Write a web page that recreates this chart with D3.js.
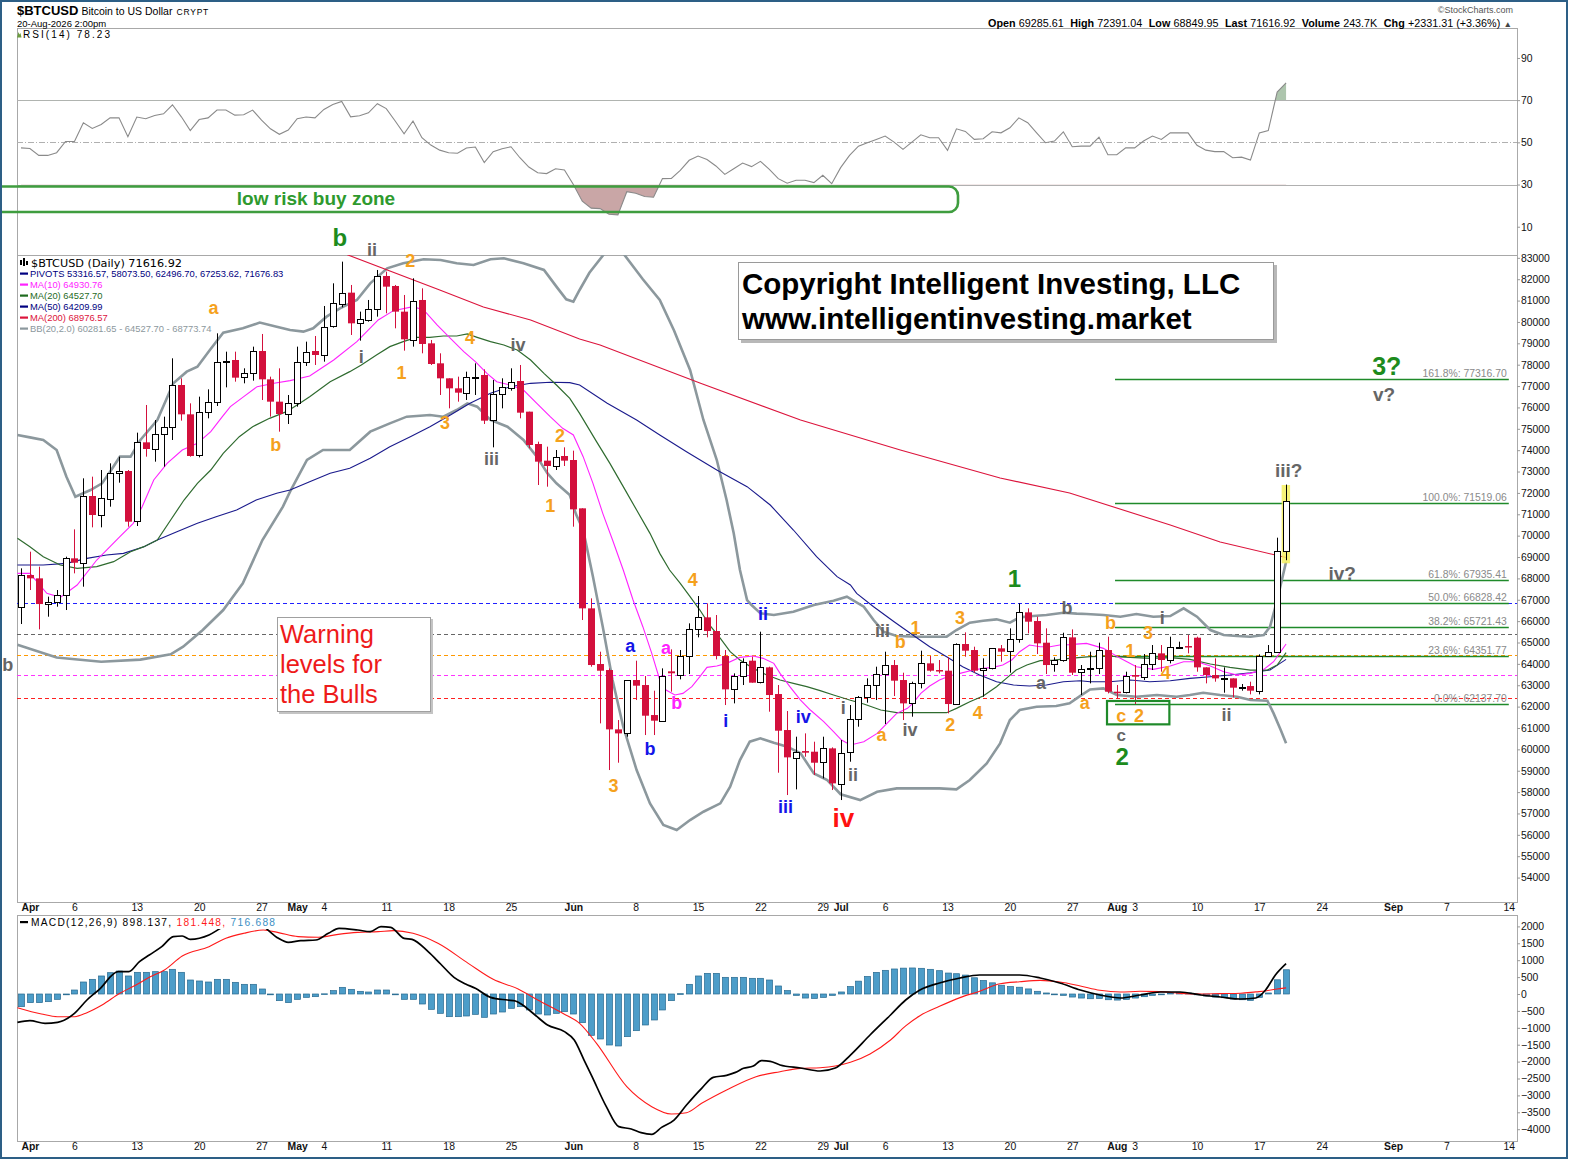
<!DOCTYPE html>
<html>
<head>
<meta charset="utf-8">
<style>
  body { margin: 0; background: #fff; }
  svg { display: block; font-family: "Liberation Sans", Arial, sans-serif; }
  .axis text { font-size: 10.4px; fill: #111; }
  .axis line { stroke: #999; }
  .axis .domain { stroke: #aaa; }
  .dotted .domain { stroke-dasharray: 1,2; }
  .wave { font-weight: bold; text-anchor: middle; dominant-baseline: central; }
  .legend { font-size: 9.4px; }
  .fib-label { font-size: 10.4px; fill: #8a8a8a; text-anchor: end; }
</style>
</head>
<body>
<svg width="1569" height="1162"></svg>
<script src="https://d3js.org/d3.v7.min.js"></script>
<script>
// ---------- values ----------
const startDate = "2026-03-31"

const opens = [66645,68158,68002,66800,66880,67222,68938,68735,71855,70966,
  71746,72947,73025,70654,74367,74055,74757,75100,77050,75677,
  73774,75802,76270,78142,78220,77409,77596,78641,77315,76270,
  75693,76239,78142,78641,78485,79780,80872,81371,79936,80092,
  80591,82151,81683,80482,79187,81028,78999,78064,77362,76894,
  76691,77409,77518,75381,76613,76940,77237,75802,74289,73509,
  73259,73727,73540,71278,66598,63993,63712,60935,60748,63244,
  63010,61606,61341,63650,63478,64367,65615,66177,65537,64367,
  62807,63431,64149,63120,63837,62589,60904,59625,59921,59890,
  59375,60046,58408,59843,61403,62433,62994,63509,63946,63244,
  62152,63088,64024,63712,63681,62121,64929,64648,63681,63790,
  64726,64601,65147,66411,66005,64991,63993,64180,65241,63588,
  63743,63790,64648,62698,62667,63478,63369,63993,64492,64180,
  64790,64835,65225,63837,63478,63322,63322,62885,62963,62745,
  64367,64570,69285.61]

const highs = [68470,69250,68548,67146,67456,69016,70295,72682,72760,73072,
  73384,73696,73072,74819,76114,75412,75568,78298,77362,76192,
  76504,76847,79468,78610,78610,77830,78844,79437,77440,77830,
  76582,78844,79078,79343,80747,81808,82822,81730,80482,81028,
  82432,82354,81730,81262,82042,81574,79156,78532,77362,77440,
  77674,78064,77783,77283,77362,77830,77986,75802,74398,74164,
  74008,74133,73977,71278,67066,64570,63790,61372,63244,64149,
  63431,62745,63790,64680,64648,65896,67175,66832,66286,64648,
  63556,64258,64336,65506,63868,63010,61793,60592,60748,60358,
  60592,60093,60436,62074,62495,63322,63868,64570,64180,63587,
  63166,64617,64367,64180,64305,64960,65475,64804,64258,64726,
  64882,65662,66832,66598,66208,65662,64305,65459,65615,63946,
  64570,64991,65272,63010,63634,63946,64461,64882,64882,65272,
  65038,65350,65272,63837,64258,63837,63322,63057,63166,64445,
  64882,69905,72391.04]

const lows = [65865,67456,65615,66208,66676,66520,68236,67612,70389,70389,
  71356,72479,70420,70451,73696,73462,73228,74476,75381,73696,
  73665,75490,76067,76940,77206,77128,77253,76348,75568,74866,
  75225,76036,77939,77986,78142,79733,80685,79390,79125,80014,
  80248,80404,79702,78657,78844,78532,77986,76582,75958,76270,
  76348,76582,75225,74133,75958,76785,75490,74086,72370,72292,
  73072,73259,70420,66052,63868,61216,59032,59375,60592,62308,
  60670,60670,61341,62700,63275,63525,65241,65241,64211,62074,
  62152,63010,63120,63088,61762,58907,57862,58127,59656,58798,
  58642,58096,57628,59422,61060,62183,62308,61185,62495,61372,
  61528,62854,63634,63556,61684,62121,64336,63587,62464,63743,
  64102,63587,64991,65428,64461,63525,63634,64102,63478,62542,
  63088,63525,62620,62386,62620,62121,63244,63712,63634,64024,
  64726,64492,63634,63088,63166,62651,62433,62745,62573,62573,
  64336,64570,68849.95]

const closes = [68158,68002,66800,66880,67222,68938,68735,71855,70966,71746,
  72947,73025,70654,74367,74055,74757,75100,77050,75677,73727,
  75802,76270,78142,78190,77393,77596,78641,77315,76270,75693,
  76223,78142,78610,78454,79780,80872,81371,79936,80124,80591,
  82151,81652,80482,79187,80997,78969,78033,77362,76894,76691,
  77440,77440,75381,76613,76940,77206,75755,74242,73462,73259,
  73696,73509,71231,66598,63946,63680,60935,60748,63244,62979,
  61575,61341,63447,63560,64367,65615,66177,65537,64367,62807,
  63431,64102,63120,63837,62542,60873,59625,59890,59843,59375,
  60046,58408,59843,61403,62433,62994,63509,63946,63213,62152,
  63088,64024,63681,63665,62121,64929,64617,63681,63790,64726,
  64570,65147,66411,65974,64960,63946,64180,65241,63587,63743,
  63790,64648,62698,62667,63431,63400,63993,64492,64180,64773,
  64804,64773,63837,63478,63322,63330,62885,62900,62745,64367,
  64570,69285.61,71616.92]

const rsi = [47.4,47.1,43.8,43.8,45.1,50.4,50.4,59.3,56.6,58.5,
  61.6,61.6,52.7,62.0,61.2,62.7,63.5,67.8,62.1,55.6,
  60.8,61.6,65.3,65.3,62.9,63.1,65.3,60.5,56.4,53.8,
  55.8,61.2,62.0,61.6,65.6,67.9,69.4,62.1,62.6,64.0,
  68.3,66.0,60.1,54.1,60.1,52.2,48.7,46.3,45.1,44.8,
  47.3,47.8,40.4,45.6,47.0,47.9,42.7,38.3,35.6,35.2,
  37.5,36.9,30.0,22.1,18.8,18.6,15.9,15.6,26.6,25.9,
  24.3,24.0,32.8,32.9,36.7,41.5,43.5,41.9,38.8,34.8,
  37.5,40.2,38.5,41.0,37.2,32.8,30.6,32.0,32.0,30.9,
  34.4,30.4,38.0,43.8,48.2,49.8,51.4,53.0,50.1,46.7,
  50.1,53.6,52.2,52.2,46.2,56.4,55.2,51.4,51.7,55.0,
  54.5,56.9,61.6,59.3,54.5,49.8,50.6,55.0,47.9,48.2,
  48.2,52.5,44.1,44.1,47.4,47.4,50.6,53.0,51.4,54.5,
  54.5,54.5,48.6,46.3,45.6,45.6,42.7,43.0,41.6,54.5,
  55.6,73.8,78.2]

const macdHist = [-375,-256,-256,-227,-158,-20,118,355,434,533,
  631,680,533,641,641,661,661,730,641,414,
  385,355,434,434,345,286,286,148,-20,-197,
  -256,-158,-99,-79,5,99,197,138,79,59,
  118,118,-20,-158,-158,-296,-454,-572,-671,-671,
  -651,-602,-690,-592,-533,-424,-375,-473,-592,-621,
  -572,-523,-592,-848,-1223,-1331,-1509,-1538,-1262,-1085,
  -917,-769,-473,-197,10,286,533,611,611,493,
  493,493,464,464,414,237,100,-40,-120,-130,
  -100,-40,60,220,380,520,640,700,740,765,
  770,760,730,690,620,600,560,480,400,330,
  260,220,200,150,80,30,-20,-40,-90,-120,
  -140,-130,-170,-180,-160,-120,-80,-40,-10,30,
  40,30,-20,-60,-90,-110,-150,-170,-190,-100,
  30,420,717]

// lines read at sample points: [days after startDate, value]
const ma10 = [[-0.4,68236],[1,68236],[2.9,67300],[4.4,67112],[6.3,67690],[8.5,68860],[11.1,69952],[12.6,70576],[13.6,71356],[14.9,72604],[16.4,73384],[18.1,74008],[19.8,74320],[21.3,74866],[22.6,75568],[23.5,76036],[25,76504],[26.5,76972],[28.4,77128],[30.2,77253],[32.4,77471],[35.1,78220],[37.7,79078],[40.1,80092],[41.8,80529],[44,80716],[45.2,80560],[46.7,79858],[48.2,79234],[49.7,78610],[51,78142],[52.3,77596],[53.4,77206],[54.9,77050],[56.4,76816],[57.9,76192],[59.4,75568],[60.8,75022],[62,74710],[63.1,73696],[64.2,72448],[65.3,71044],[66.4,69796],[67.6,68392],[68.7,66988],[69.8,65740],[70.8,64492],[71.7,63244],[72.4,62776],[73.4,62542],[74.3,62620],[75.3,62932],[76.2,63400],[77,63837],[78.1,63899],[79.2,64024],[80.7,64305],[82.2,64367],[83.3,64258],[84.5,64024],[85.2,63556],[86.3,62932],[87.5,62308],[88.6,61840],[90.1,61294],[91.2,60826],[92.1,60436],[93.1,60202],[94.6,60358],[96.1,60748],[97.2,61216],[98.3,61684],[99.5,61918],[100.1,62152],[101,62620],[102,62963],[103.1,63244],[104.2,63431],[105.4,63556],[106.9,63712],[108,63790],[109.1,63837],[110.2,63946],[111.2,64180],[112.1,64570],[113.2,64882],[114.4,64804],[115.5,64804],[116.6,64882],[117.7,64900],[119.6,64960],[121.5,64726],[123.4,64258],[125.2,63868],[127.1,63743],[129,63899],[130.5,64102],[132,64102],[133.5,63899],[135,63634],[136.5,63478],[138,63556],[139.5,63743],[140.6,64102],[142,64931]]

const ma20 = [[-0.4,69874],[1,69484],[2.5,69016],[4.4,68626],[6.3,68470],[8.5,68548],[10.4,68782],[12.3,69250],[13.8,69484],[15.3,69796],[16.8,70732],[18.3,71668],[19.8,72448],[21.3,73072],[22.7,73852],[24.5,74632],[26,75100],[27.9,75490],[29.8,75802],[31.3,76192],[32.4,76504],[34.7,77206],[36.9,77674],[38.2,77986],[39.9,78454],[41.4,78844],[42.9,79078],[44.4,79281],[45.9,79281],[47.4,79343],[48.9,79343],[50.1,79437],[51.2,79281],[52.7,79078],[54.2,78922],[55.7,78688],[57.2,78220],[58.7,77596],[60.1,77050],[61.6,76426],[62.7,75724],[64.6,74398],[66.1,73384],[67.6,72292],[69.1,71200],[70.6,70108],[71.7,69172],[72.8,68392],[74,67768],[75.1,67144],[76.2,66520],[77.3,65818],[78.5,65194],[79.6,64570],[80.7,64180],[82.2,63790],[83.7,63478],[85.2,63244],[86.7,63088],[88.2,62932],[89.7,62745],[91.2,62542],[93.1,62300],[94.6,62121],[96.5,61840],[98.3,61715],[100.1,61715],[102,61715],[103.9,61715],[105,61918],[106.5,62230],[108,62495],[109.5,62932],[110.6,63322],[111.7,63712],[112.9,63946],[114.4,64149],[115.9,64180],[117.7,64258],[120,64336],[122.2,64367],[124.5,64305],[126.7,64258],[129,64289],[131.2,64211],[133.5,63993],[135.7,63837],[138,63712],[139.9,63712],[141,63946],[142,64528]]

const ma50 = [[-0.4,68626],[2.5,68626],[5.1,68704],[7.4,68938],[9.6,69094],[11.5,69172],[13.8,69484],[15.3,69796],[17.5,70186],[19.8,70576],[21.9,70888],[24.2,71200],[26.4,71668],[28.7,71980],[30.2,72136],[32.4,72526],[34.7,72916],[36.9,73150],[39.2,73618],[41.4,74164],[43.7,74632],[45.9,75100],[48.2,75646],[50.4,76192],[52.7,76660],[54.9,76972],[57.2,77128],[59.4,77175],[61.6,77159],[62.7,77050],[65.8,76200],[69.1,75412],[71.7,74710],[74.7,73930],[78.1,73072],[81.5,72292],[84.1,71434],[86.7,70264],[89.3,69016],[91.6,68080],[93.1,67690],[93.8,67300],[95.7,66676],[98,65974],[100.1,65350],[102,64804],[103.9,64336],[105.7,63868],[107.6,63478],[109.5,63166],[111.4,63010],[113.2,62963],[115.1,63010],[117,63166],[118.9,63213],[120,63166],[122.2,63166],[124.5,63244],[126.7,63166],[129,63213],[131.2,63322],[133.5,63400],[135.7,63478],[138,63587],[140.2,63712],[142,64210]]

const ma200 = [[30,84400],[36.7,83134],[47,81496],[51.9,80700],[57.2,80092],[62.7,79203],[65,78922],[76.2,77144],[87.5,75412],[98.7,74008],[109.9,72698],[117.7,71996],[129,70498],[134.6,69703],[142,68977]]

const bbUpper = [[-0.4,74710],[1,74600],[2.5,74476],[4,74008],[5.1,72760],[6.1,71824],[7.8,72136],[9.1,72448],[10,72994],[11.1,73696],[12.3,73696],[13.4,74476],[15.3,75412],[17.1,77128],[18.6,77674],[19.8,77908],[21.2,78688],[22.7,79500],[24.9,79702],[26.8,79970],[28.7,79780],[30.2,79624],[31.7,79546],[32.8,79702],[34.3,80248],[35.8,80638],[37.7,81028],[39.2,81808],[41.1,82510],[42.9,82744],[45.2,82931],[47.1,82900],[48.9,82744],[50.8,82666],[52.7,82931],[54.2,82978],[56.4,82744],[58.7,82432],[60.1,81652],[61.2,81060],[62,80950],[62.7,81496],[63.8,82300],[65.3,83100],[66.6,83800],[67.8,83100],[69.8,82000],[71.7,81028],[73.3,79600],[75.1,77752],[76.6,75412],[78.1,73540],[79.2,71668],[80,70108],[80.7,68392],[81.5,66988],[82,66754],[83,66364],[84.5,66286],[86.7,66442],[89,66754],[91.2,66957],[92.7,67144],[94.6,66676],[95.7,66052],[96.8,65506],[98.3,65303],[100.5,65272],[102,65272],[103.9,65272],[105,65584],[106.5,65927],[108,66021],[109.5,66083],[111,65927],[112.1,66177],[113.6,66239],[115.1,66286],[117,66395],[118.5,66350],[119.6,66333],[121.5,66286],[123.4,66208],[125.2,66333],[127.1,66208],[129,66239],[130.5,66598],[132,66208],[133.5,65584],[135,65350],[136.5,65303],[138,65272],[139.5,65350],[140.2,65740],[141,66988],[142,68774]]

const bbLower = [[-0.4,64900],[4,64300],[9,64100],[13.4,64200],[16.8,64450],[18.2,64804],[20.4,65584],[22.7,66520],[24.9,67768],[27.1,69796],[29.4,71356],[30.2,72058],[32.1,73540],[33.9,74008],[36.9,74008],[39.2,74866],[41.4,75256],[43.3,75568],[45.9,75646],[47.4,75568],[48.9,75880],[50.1,76192],[51.2,76036],[52.7,75412],[54.6,75100],[56.4,74476],[57.9,73696],[59.1,72916],[60.1,72448],[61.6,71900],[62.3,71000],[63.1,70264],[64.2,68080],[65.3,65740],[66.4,63244],[67.6,61060],[69.1,59032],[70.6,57472],[72.1,56458],[73.6,56224],[75.1,56692],[76.6,57082],[78.5,57472],[79.6,58252],[80.7,59500],[81.8,60358],[83,60514],[84.5,60311],[86,60124],[87.5,59812],[89,58876],[90.5,58564],[92,57900],[94.2,57628],[96.1,58018],[98.3,58174],[100.5,58174],[103.1,58174],[105,58127],[106.5,58564],[108.4,59344],[109.9,60280],[111,61372],[112.1,61840],[114,61996],[116.2,62027],[117.7,62152],[118.9,62500],[120,62800],[121.5,62854],[123,62542],[125.2,62464],[127.5,62542],[129.7,62464],[131.2,62542],[132.7,62651],[134.6,62542],[136.5,62464],[138,62308],[139.9,62277],[140.6,61684],[141.4,60904],[142,60282]]

const macdLine = [[-0.4,-838],[1,-789],[2.7,-868],[4.1,-838],[6,-572],[7.4,-178],[8.8,138],[10.9,661],[12.1,661],[13.3,957],[14.4,1154],[15.8,1400],[17.1,1696],[18.1,1716],[19,1617],[21.1,1746],[22.4,1943],[24,2150],[26,2250],[27.5,1943],[28.9,1647],[30,1529],[31.4,1578],[33.1,1598],[34.5,1795],[35.7,1943],[37.8,1893],[39.2,1844],[40.4,1992],[41.5,1972],[43,1647],[43.9,1617],[45.7,1252],[47.1,888],[48.6,493],[49.9,296],[51,168],[52.7,-99],[54.6,-178],[55.5,-207],[56.3,-325],[57.7,-621],[59.1,-917],[61,-1114],[62.1,-1361],[63.2,-1953],[64.1,-2446],[65.7,-3333],[67.1,-3925],[68.5,-3994],[69.6,-4103],[70.8,-4152],[71.9,-3945],[73.3,-3728],[74.7,-3284],[76.4,-2791],[77.7,-2466],[79.2,-2406],[80.2,-2318],[81.1,-2199],[82.2,-2130],[83.1,-1972],[84.1,-1992],[85.2,-2101],[87.5,-2189],[89.7,-2278],[91.4,-2189],[93.1,-1805],[95.3,-1213],[97.6,-621],[99.3,-178],[100.9,118],[103.1,325],[105.4,473],[107.6,562],[109.9,562],[112.1,562],[114.4,473],[116.6,325],[118.9,118],[121.1,-30],[123.4,-118],[125.6,-30],[127.9,59],[130.1,59],[132.4,-30],[134.6,-89],[136.9,-148],[138.6,-118],[139.7,118],[140.8,562],[142,898]]

const signalLine = [[-0.4,-404],[2.3,-592],[4.1,-671],[6,-671],[7.4,-552],[9.1,-325],[11.1,20],[12.9,266],[14.4,493],[16.1,710],[18.1,1124],[21.1,1400],[23,1647],[25,1795],[27.2,1893],[28.9,1815],[31.1,1696],[33.4,1677],[35.6,1765],[37.8,1824],[40.1,1844],[41.8,1874],[44,1795],[46.8,1499],[50.2,907],[53,434],[55.8,148],[58,-178],[60.8,-572],[62.7,-868],[64.6,-1460],[68,-2742],[70.8,-3333],[73,-3550],[74.7,-3511],[76.4,-3235],[79.2,-2840],[82.5,-2446],[85.2,-2298],[87.5,-2200],[89.7,-2180],[91.4,-2130],[93.1,-2020],[95.3,-1773],[97.6,-1361],[99.3,-943],[100.9,-642],[103.1,-365],[105.4,-107],[107.6,82],[109.9,302],[112.1,362],[114.4,403],[116.6,355],[118.9,238],[121.1,110],[123.4,57],[125.6,80],[127.9,69],[130.1,19],[132.4,0],[134.6,11],[136.9,22],[138.6,62],[139.7,88],[140.8,142],[142,181]]

const levelValues = [66850, 65400, 64400, 63480, 62390]
const levelColors = ["#2020ff", "#666666", "#ff9900", "#ff33ff", "#ff2020"]

const fibNames = ["161.8%", "100.0%", "61.8%", "50.0%", "38.2%", "23.6%", "0.0%"]
const fibValues = [77316.70, 71519.06, 67935.41, 66828.42, 65721.43, 64351.77, 62137.70]

const priceTicks = d3.range(54000, 83001, 1000)
const rsiTicks = [10, 30, 50, 70, 90]
const macdTicks = d3.range(-4000, 2001, 500)
const dateTicks = ["2026-04-01","2026-04-06","2026-04-13","2026-04-20","2026-04-27",
  "2026-05-01","2026-05-04","2026-05-11","2026-05-18","2026-05-25",
  "2026-06-01","2026-06-08","2026-06-15","2026-06-22","2026-06-29",
  "2026-07-01","2026-07-06","2026-07-13","2026-07-20","2026-07-27",
  "2026-08-01","2026-08-03","2026-08-10","2026-08-17","2026-08-24",
  "2026-09-01","2026-09-07","2026-09-14"]

// wave counts: [day, price, text, colour, size]
const waves = [
  [-1.5,63945,"b","g",18],[35.8,83930,"b","G",24],[39.4,83367,"ii","g",18],[43.7,82850,"2","o",18],
  [21.6,80652,"a","o",18],[28.6,74240,"b","o",18],[38.2,78342,"i","g",18],[42.7,77593,"1","o",18],
  [50.4,79231,"4","o",18],[55.8,78903,"iv","g",18],[47.6,75272,"3","o",18],[52.8,73587,"iii","g",18],
  [60.5,74664,"2","o",18],[59.4,71388,"1","o",18],[75.4,67925,"4","o",18],[68.4,64836,"a","b",18],
  [72.4,64742,"a","m",18],[73.6,62169,"b","m",18],[70.6,60016,"b","b",18],[66.5,58284,"3","o",18],
  [83.3,66331,"ii","b",18],[79.1,61324,"i","b",18],[87.8,61511,"iv","b",18],[85.8,57299,"iii","b",18],
  [92.3,56784,"iv","r",26],[92.3,61932,"i","g",18],[93.4,58797,"ii","g",18],[96.6,60669,"a","o",18],
  [99.8,60903,"iv","g",18],[96.7,65536,"iii","g",18],[98.7,65021,"b","o",18],[100.4,65676,"1","o",18],
  [105.4,66144,"3","o",18],[104.3,61136,"2","o",18],[107.4,61698,"4","o",18],[111.5,68018,"1","G",24],
  [117.4,66614,"b","g",18],[114.5,63104,"a","g",18],[119.4,62169,"a","o",18],[122.3,65911,"b","o",18],
  [124.5,64601,"1","o",18],[126.5,65443,"3","o",18],[128.5,63572,"4","o",18],[128.1,66144,"i","g",18],
  [135.3,61605,"ii","g",18],[123.5,61558,"c","o",18],[125.5,61558,"2","o",18],[123.5,60669,"c","g",17],
  [123.6,59686,"2","G",24],[142.3,73072,"iii?","g",19],[148.3,68252,"iv?","g",19],[153.0,76628,"v?","g",19],
  [153.3,77938,"3?","G",25]
]
const waveColors = {o: "#f5a11c", g: "#666666", b: "#1414e8", m: "#ff22ff", r: "#ff1111", G: "#1d8b1d"}

// ---------- scales ----------
const dayMs = 864e5
const day0 = d3.utcParse("%Y-%m-%d")(startDate)
const dateOf = i => new Date(+day0 + i * dayMs)

const L = 17, R = 1517
const rsiTop = 28, priceTop = 255, priceBot = 902, macdTop = 915, macdBot = 1141

const x = d3.scaleUtc().domain([dateOf(-0.449), dateOf(167.92)]).range([L, R])
const yP = d3.scaleLinear().domain([52857, 83133]).range([priceBot, priceTop])
const yR = d3.scaleLinear().domain([-3.4, 104.2]).range([priceTop, rsiTop])
const yM = d3.scaleLinear().domain([-4349, 2337]).range([macdBot, macdTop])

const svg = d3.select("svg")
const defs = svg.append("defs")
function clip(id, x0, y0, x1, y1) {
  defs.append("clipPath").attr("id", id).append("rect")
    .attr("x", x0).attr("y", y0).attr("width", x1 - x0).attr("height", y1 - y0)
}
clip("clipRsi", L, rsiTop, R, priceTop)
clip("clipPrice", L, priceTop, R, priceBot)
clip("clipMacd", L, macdTop, R, macdBot)
clip("rsiLow", L, yR(30), R, priceTop)
clip("rsiHigh", L, rsiTop, R, yR(70))

svg.append("rect").attr("width", 1569).attr("height", 1162).attr("fill", "#fff")

// panel frames
const frame = svg.append("g").attr("fill", "none").attr("stroke", "#a8a8a8")
frame.append("rect").attr("x", L + .5).attr("y", rsiTop + .5).attr("width", R - L).attr("height", priceBot - rsiTop)
frame.append("line").attr("x1", L).attr("x2", R).attr("y1", priceTop + .5).attr("y2", priceTop + .5)
frame.append("rect").attr("x", L + .5).attr("y", macdTop + .5).attr("width", R - L).attr("height", macdBot - macdTop)

// ---------- header ----------
const hdr = svg.append("text").attr("x", 17).attr("y", 15)
hdr.append("tspan").attr("font-weight", "bold").attr("font-size", 13).text("$BTCUSD")
hdr.append("tspan").attr("font-size", 10.5).attr("dx", 3).text("Bitcoin to US Dollar")
hdr.append("tspan").attr("font-size", 8.5).attr("dx", 4).attr("letter-spacing", 0.8).text("CRYPT")
svg.append("text").attr("x", 17).attr("y", 27).attr("font-size", 9.5).text("20-Aug-2026 2:00pm")

svg.append("text").attr("x", 1513).attr("y", 13).attr("text-anchor", "end")
  .attr("font-size", 9).attr("fill", "#555").text("\u00a9StockCharts.com")

const quote = svg.append("text").attr("x", 988).attr("y", 27).attr("font-size", 10)
  .attr("textLength", 524).attr("lengthAdjust", "spacingAndGlyphs")
const quoteParts = [["Open", "69285.61"], ["High", "72391.04"], ["Low", "68849.95"], ["Last", "71616.92"], ["Volume", "243.7K"], ["Chg", "+2331.31 (+3.36%)"]]
quoteParts.forEach(([k, v], j) => {
  quote.append("tspan").attr("font-weight", "bold").attr("dx", j ? 6 : 0).text(k)
  quote.append("tspan").attr("dx", 3).text(v)
})
quote.append("tspan").attr("dx", 3).attr("font-size", 8).attr("fill", "#444").text("\u25b2")

// ---------- RSI panel ----------
const rsiG = svg.append("g")
const rsiGuide = (v, dash) => rsiG.append("line").attr("x1", L).attr("x2", R)
  .attr("y1", Math.round(yR(v)) + .5).attr("y2", Math.round(yR(v)) + .5)
  .attr("stroke", "#b0b0b0").attr("stroke-dasharray", dash)
rsiGuide(70, null); rsiGuide(30, null); rsiGuide(50, "6,2,1,2")

const rsiArea = base => d3.area().x((d, i) => x(dateOf(i))).y0(yR(base)).y1(d => yR(d))
rsiG.append("path").datum(rsi).attr("clip-path", "url(#rsiLow)")
  .attr("d", rsiArea(30)).attr("fill", "#c9a6a6")
rsiG.append("path").datum(rsi).attr("clip-path", "url(#rsiHigh)")
  .attr("d", rsiArea(70)).attr("fill", "#adc5ad")
rsiG.append("path").datum(rsi).attr("clip-path", "url(#clipRsi)")
  .attr("d", d3.line().x((d, i) => x(dateOf(i))).y(d => yR(d)))
  .attr("fill", "none").attr("stroke", "#8a8a8a").attr("stroke-width", 1.1)

svg.append("rect").attr("x", -20).attr("y", 186.5).attr("width", 978).attr("height", 25.5)
  .attr("rx", 9).attr("fill", "none").attr("stroke", "#3f9d3f").attr("stroke-width", 2.6)
svg.append("text").attr("x", 316).attr("y", 205).attr("text-anchor", "middle")
  .attr("font-size", 19).attr("font-weight", "bold").attr("fill", "#2e9a2e")
  .text("low risk buy zone")

svg.append("path").attr("d", "M17,37.5 L18.5,32 L19.5,34.5 L20.5,33 L21.5,37.5 Z").attr("fill", "#6c9c40")
svg.append("text").attr("x", 23).attr("y", 37.5).attr("font-size", 10)
  .attr("textLength", 87).attr("lengthAdjust", "spacing").text("RSI(14) 78.23")

svg.append("g").attr("class", "axis").attr("transform", `translate(${R},0)`)
  .call(d3.axisRight(yR).tickValues(rsiTicks).tickSize(3).tickSizeOuter(0).tickPadding(1))

// ---------- price panel ----------
const pg = svg.append("g").attr("clip-path", "url(#clipPrice)")

levelValues.forEach((v, j) => {
  pg.append("line").attr("x1", L).attr("x2", R)
    .attr("y1", Math.round(yP(v)) + .5).attr("y2", Math.round(yP(v)) + .5)
    .attr("stroke", levelColors[j]).attr("stroke-width", 1.1).attr("stroke-dasharray", "4,3")
})

const fibX0 = x(dateOf(122.8)), fibX1 = x(dateOf(167.0))
fibValues.forEach((v, j) => {
  const yy = Math.round(yP(v)) + .5
  pg.append("line").attr("x1", fibX0).attr("x2", fibX1).attr("y1", yy).attr("y2", yy)
    .attr("stroke", "#1f8a2a").attr("stroke-width", 1.3)
  pg.append("text").attr("class", "fib-label").attr("x", fibX1 - 2).attr("y", yy - 3)
    .text(`${fibNames[j]}: ${fibValues[j].toFixed(2)}`)
})

const dayLine = d3.line().x(d => x(dateOf(d[0]))).y(d => yP(d[1])).curve(d3.curveLinear)
const drawLine = (data, color, width) => pg.append("path").datum(data).attr("d", dayLine)
  .attr("fill", "none").attr("stroke", color).attr("stroke-width", width)
drawLine(bbUpper, "#8c989d", 2.6)
drawLine(bbLower, "#8c989d", 2.6)
drawLine(ma200, "#dc143c", 1.1)
drawLine(ma50, "#1a1a8c", 1.1)
drawLine(ma20, "#2f6b2f", 1.2)
drawLine(ma10, "#ff22ff", 1.1)

// yellow highlight behind last candle
pg.append("rect").attr("x", x(dateOf(141.5))).attr("width", x(dateOf(142.45)) - x(dateOf(141.5)))
  .attr("y", yP(72370)).attr("height", yP(68706) - yP(72370)).attr("fill", "#f4f060").attr("opacity", .85)

const candles = closes.map((c, i) => ({date: dateOf(i), o: opens[i], h: highs[i], l: lows[i], c: c}))
const up = d => d.c >= d.o
const cx = d => Math.round(x(d.date))
pg.selectAll("line.wick").data(candles).join("line").attr("class", "wick")
  .attr("x1", d => cx(d) + .5).attr("x2", d => cx(d) + .5)
  .attr("y1", d => yP(d.h)).attr("y2", d => yP(d.l))
  .attr("stroke", d => up(d) ? "#000" : "#d3103c")
pg.selectAll("rect.body").data(candles).join("rect").attr("class", "body")
  .attr("x", d => up(d) ? cx(d) - 2.5 : cx(d) - 3)
  .attr("width", d => up(d) ? 6 : 7)
  .attr("y", d => up(d) ? Math.round(yP(d.c)) + .5 : yP(d.o))
  .attr("height", d => up(d) ? Math.max(1, Math.round(yP(d.o) - yP(d.c))) : Math.max(1.5, yP(d.c) - yP(d.o)))
  .attr("fill", d => up(d) ? "#fff" : "#d3103c")
  .attr("stroke", d => up(d) ? "#000" : "none")

// green box around "c 2"
svg.append("rect").attr("x", x(dateOf(121.9))).attr("y", yP(62263))
  .attr("width", x(dateOf(128.9)) - x(dateOf(121.9))).attr("height", yP(61170) - yP(62263))
  .attr("fill", "none").attr("stroke", "#1f8a2a").attr("stroke-width", 2.2)

svg.append("g").attr("class", "axis dotted").attr("transform", `translate(${R},0)`)
  .call(d3.axisRight(yP).tickValues(priceTicks).tickSize(3).tickSizeOuter(0).tickPadding(1).tickFormat(d3.format("d")))

// legend
const legendRows = [
  ["#000080", "PIVOTS 53316.57, 58073.50, 62496.70, 67253.62, 71676.83"],
  ["#ff22ff", "MA(10) 64930.76"],
  ["#1f6b1f", "MA(20) 64527.70"],
  ["#000080", "MA(50) 64209.99"],
  ["#dc143c", "MA(200) 68976.57"],
  ["#8c989d", "BB(20,2.0) 60281.65 - 64527.70 - 68773.74"]
]
const icon = svg.append("g").attr("fill", "#000")
;[[20, 260, 5], [23, 258, 8], [26, 261, 4]].forEach(([ix, iy, ih]) =>
  icon.append("rect").attr("x", ix).attr("y", iy).attr("width", 2).attr("height", ih))
svg.append("text").attr("x", 31).attr("y", 266.5).attr("font-size", 10.6)
  .attr("font-family", "DejaVu Sans, sans-serif")
  .attr("textLength", 151).attr("lengthAdjust", "spacingAndGlyphs").text("$BTCUSD (Daily) 71616.92")
legendRows.forEach(([col, txt], j) => {
  const yy = 277 + j * 11
  svg.append("rect").attr("x", 20).attr("y", yy - 4.5).attr("width", 8).attr("height", 2.2).attr("fill", col)
  svg.append("text").attr("class", "legend").attr("x", 30).attr("y", yy).attr("fill", col).text(txt)
})

// wave labels
svg.append("g").selectAll("text").data(waves).join("text").attr("class", "wave")
  .attr("x", d => x(dateOf(d[0]))).attr("y", d => yP(d[1]))
  .attr("font-size", d => d[4]).attr("fill", d => waveColors[d[3]]).text(d => d[2])

// copyright box
svg.append("rect").attr("x", 741).attr("y", 265).attr("width", 536).attr("height", 78).attr("fill", "#b8b8b8")
svg.append("rect").attr("x", 738.5).attr("y", 262.5).attr("width", 535).attr("height", 77)
  .attr("fill", "#fff").attr("stroke", "#9a9a9a")
svg.append("text").attr("x", 742).attr("y", 294).attr("font-size", 29.5).attr("font-weight", "bold")
  .text("Copyright Intelligent Investing, LLC")
svg.append("text").attr("x", 742).attr("y", 329).attr("font-size", 29.5).attr("font-weight", "bold")
  .text("www.intelligentinvesting.market")

// warning box
svg.append("rect").attr("x", 279).attr("y", 619).attr("width", 154).attr("height", 95).attr("fill", "#c4c4c4")
svg.append("rect").attr("x", 277.5).attr("y", 617.5).attr("width", 153).attr("height", 94)
  .attr("fill", "#fff").attr("stroke", "#a0a0a0")
;["Warning", "levels for", "the Bulls"].forEach((t, j) =>
  svg.append("text").attr("x", 280).attr("y", 643 + j * 30).attr("font-size", 25.5)
    .attr("fill", "#ee1a1a").text(t))

// ---------- date axes ----------
const tickDates = dateTicks.map(d3.utcParse("%Y-%m-%d"))
const dateAxis = d3.axisBottom(x).tickValues(tickDates).tickSize(2).tickSizeOuter(0).tickPadding(0)
  .tickFormat(d => d.getUTCDate() === 1 ? d3.utcFormat("%b")(d) : d3.utcFormat("%-d")(d))
;[priceBot, macdBot].forEach(yy => {
  svg.append("g").attr("class", "axis dotted").attr("transform", `translate(0,${yy})`)
    .call(dateAxis)
    .call(g => g.selectAll("text").attr("font-size", d => d.getUTCDate() === 1 ? 11 : 10)
      .attr("font-weight", d => d.getUTCDate() === 1 ? "bold" : "normal"))
})

// ---------- MACD panel ----------
const mg = svg.append("g").attr("clip-path", "url(#clipMacd)")
mg.selectAll("rect").data(macdHist).join("rect")
  .attr("x", (d, i) => Math.round(x(dateOf(i))) - 2.5)
  .attr("width", 6)
  .attr("y", d => Math.min(yM(0), yM(d)))
  .attr("height", d => Math.max(0.8, Math.abs(yM(d) - yM(0))))
  .attr("fill", "#4c9dc9").attr("stroke", "#27698f").attr("stroke-width", .7)

const macdPath = d3.line().x(d => x(dateOf(d[0]))).y(d => yM(d[1])).curve(d3.curveMonotoneX)
mg.append("path").datum(signalLine).attr("d", macdPath).attr("fill", "none").attr("stroke", "#ff1a1a").attr("stroke-width", 1.1)
mg.append("path").datum(macdLine).attr("d", macdPath).attr("fill", "none").attr("stroke", "#000").attr("stroke-width", 1.7)

svg.append("rect").attr("x", 18).attr("y", 916).attr("width", 260).attr("height", 13).attr("fill", "#fff")
svg.append("rect").attr("x", 20).attr("y", 921).attr("width", 8).attr("height", 2.2).attr("fill", "#000")
const ml = svg.append("text").attr("x", 31).attr("y", 926).attr("font-size", 10.2)
  .attr("textLength", 244).attr("lengthAdjust", "spacing")
ml.append("tspan").text("MACD(12,26,9) 898.137, ")
ml.append("tspan").attr("fill", "#ff1a1a").text("181.448, ")
ml.append("tspan").attr("fill", "#3a8fc4").text("716.688")

svg.append("g").attr("class", "axis").attr("transform", `translate(${R},0)`)
  .call(d3.axisRight(yM).tickValues(macdTicks).tickSize(3).tickSizeOuter(0).tickPadding(1).tickFormat(d3.format("d")))

// outer frame
svg.append("rect").attr("x", 1).attr("y", 1).attr("width", 1566).attr("height", 1157)
  .attr("fill", "none").attr("stroke", "#2d5f86").attr("stroke-width", 2)
</script>
</body>
</html>
